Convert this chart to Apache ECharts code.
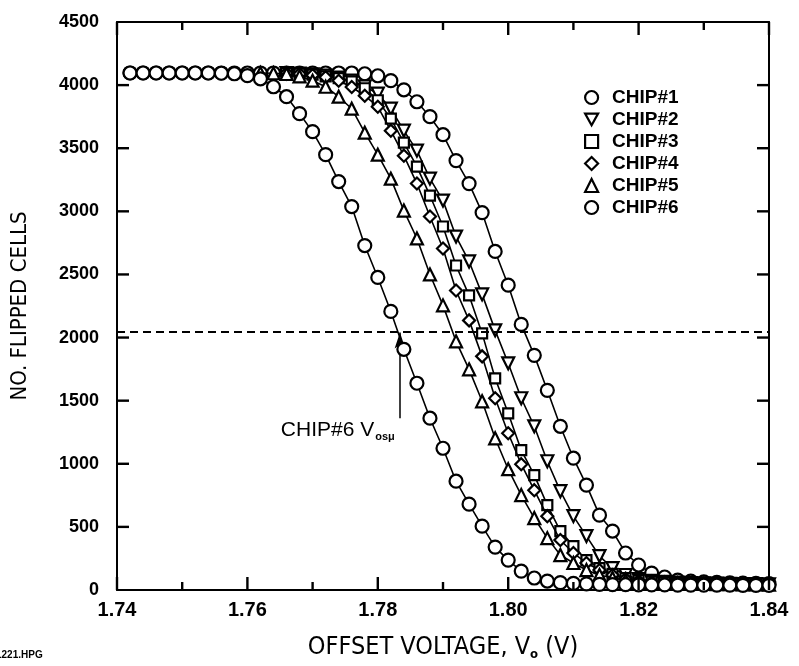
<!DOCTYPE html>
<html>
<head>
<meta charset="utf-8">
<script src="https://cdn.jsdelivr.net/npm/echarts@6/dist/echarts.min.js"></script>
<style>
  html, body { margin: 0; padding: 0; background: #fff; }
  #chart { width: 799px; height: 666px; }
</style>
</head>
<body>
<div id="chart"></div>
<script>
// offset voltage (V), one reading every 2 mV
const voltage = [1.742, 1.744, 1.746, 1.748, 1.750, 1.752, 1.754, 1.756, 1.758, 1.760,
  1.762, 1.764, 1.766, 1.768, 1.770, 1.772, 1.774, 1.776, 1.778, 1.780,
  1.782, 1.784, 1.786, 1.788, 1.790, 1.792, 1.794, 1.796, 1.798, 1.800,
  1.802, 1.804, 1.806, 1.808, 1.810, 1.812, 1.814, 1.816, 1.818, 1.820,
  1.822, 1.824, 1.826, 1.828, 1.830, 1.832, 1.834, 1.836, 1.838, 1.840]

// flipped cells per chip (null = not measured)
const chip1 = [4096, 4096, 4096, 4096, 4096, 4096, 4096, 4096, 4096, 4096,
  4096, 4096, 4096, 4096, 4096, 4096, 4096, 4096, 4090, 4074,
  4035, 3963, 3868, 3750, 3607, 3402, 3220, 2990, 2682, 2415,
  2104, 1859, 1582, 1297, 1044, 831, 593, 467, 293, 198,
  134, 103, 79, 71, 64, 60, 56, 54, 52, 50]
const chip2 = [null, null, null, null, null, null, null, null, null, null,
  null, null, 4096, 4092, 4085, 4075, 4060, 4035, 3990, 3932,
  3813, 3639, 3481, 3259, 3085, 2800, 2603, 2342, 2057, 1796,
  1519, 1297, 1020, 783, 585, 427, 269, 174, 119, 87,
  72, 64, 58, 54, 52, 50, 48, 47, 46, 45]
const chip3 = [null, null, null, null, null, null, null, null, null, null,
  null, null, 4096, 4090, 4082, 4070, 4055, 4030, 3975, 3880,
  3734, 3544, 3354, 3125, 2880, 2571, 2334, 2033, 1677, 1400,
  1108, 910, 672, 467, 348, 237, 174, 127, 95, 78,
  66, 60, 55, 52, 50, 48, 47, 46, 45, 44]
const chip4 = [null, null, null, null, null, null, null, null, null, null,
  null, null, 4094, 4088, 4078, 4062, 4035, 3985, 3916, 3829,
  3639, 3441, 3220, 2959, 2706, 2373, 2136, 1851, 1519, 1242,
  997, 791, 585, 396, 293, 214, 158, 119, 90, 74,
  64, 58, 54, 51, 49, 47, 46, 45, 44, 43]
const chip5 = [null, null, null, null, null, null, null, null, null, null,
  4096, 4094, 4088, 4070, 4035, 3987, 3908, 3813, 3623, 3449,
  3259, 3006, 2785, 2500, 2255, 1970, 1748, 1495, 1202, 957,
  752, 570, 411, 277, 214, 158, 119, 95, 78, 68,
  61, 56, 52, 50, 48, 47, 46, 45, 44, 43]
const chip6 = [4096, 4096, 4096, 4096, 4096, 4096, 4096, 4094, 4090, 4075,
  4050, 3987, 3908, 3774, 3631, 3449, 3236, 3038, 2729, 2476,
  2207, 1907, 1638, 1361, 1123, 862, 680, 506, 340, 237,
  150, 95, 71, 58, 52, 48, 45, 43, 42, 41,
  40, 40, 39, 39, 38, 38, 38, 37, 37, 37]

// 刻度位置
const xMajorTicks = [1.74, 1.76, 1.78, 1.80, 1.82, 1.84]
const xMinorTicks = [1.75, 1.77, 1.79, 1.81, 1.83]
const yTicks = [500, 1000, 1500, 2000, 2500, 3000, 3500, 4000]

const chipNames = ['CHIP#1', 'CHIP#2', 'CHIP#3', 'CHIP#4', 'CHIP#5', 'CHIP#6']
const halfCells = 2048
const arrowFrom = [1.7834, 1360]
const arrowTo = [1.7834, 2040]
const noteAt = [1.7826, 1266]

const xMin = 1.74
const xMax = 1.84
const yMin = 0
const yMax = 4500

const downTri = 'path://M0,0 L10,0 L5,9 Z'
const symbols = ['circle', downTri, 'rect', 'diamond', 'triangle', 'circle']
const sizes = [13, 12, 10, 12, 12, 13]

const labelFont = "'Liberation Sans', Arial, sans-serif"
const narrowFont = "'DejaVu Sans Condensed', 'Liberation Sans Narrow', 'Liberation Sans', sans-serif"

const chart = echarts.init(document.getElementById('chart'))

const series = [chip1, chip2, chip3, chip4, chip5, chip6].map((arr, k) => {
  const s = {
    name: chipNames[k],
    type: 'line',
    data: voltage.map((v, i) => [v, arr[i]]).filter((p) => p[1] !== null),
    symbol: symbols[k],
    symbolSize: sizes[k],
    showAllSymbol: true,
    lineStyle: { color: '#000', width: 1.6 },
    itemStyle: { color: '#fff', borderColor: '#000', borderWidth: 2.2 },
    emphasis: { disabled: true },
    z: 2 + k
  }
  if (k === 5) {
    // 半數 (2048) 的虛線和箭頭
    s.markLine = {
      silent: true,
      animation: false,
      symbol: ['none', 'none'],
      data: [
        {
          yAxis: halfCells,
          lineStyle: { type: [8, 5], width: 2.2, color: '#000' }
        },
        [
          { coord: arrowFrom },
          { coord: arrowTo, symbol: 'arrow', symbolSize: [8, 16] }
        ]
      ],
      lineStyle: { type: 'solid', width: 1.5, color: '#000' },
      label: { show: false }
    }
    s.markPoint = {
      silent: true,
      symbol: 'circle',
      symbolSize: 0,
      data: [{ coord: noteAt }],
      label: {
        show: true,
        position: 'inside',
        align: 'right',
        verticalAlign: 'middle',
        formatter: '{a|CHIP#6 V}{s|osμ}',
        rich: {
          a: { fontFamily: labelFont, fontSize: 21, color: '#000' },
          s: { fontFamily: labelFont, fontSize: 11, fontWeight: 'bold', color: '#000', padding: [14, 0, 0, 1] }
        }
      }
    }
  }
  return s
})

function plainAxis(extra) {
  return Object.assign({
    type: 'value',
    axisLine: { show: true, onZero: false, lineStyle: { color: '#000', width: 2 } },
    axisTick: { show: false },
    splitLine: { show: false }
  }, extra)
}

const noteText = {
  type: 'text',
  left: -4,
  top: 650,
  style: { text: '1221.HPG', font: 'bold 10px ' + labelFont, fill: '#000' }
}

const option = {
  backgroundColor: '#fff',
  animation: false,
  grid: { left: 117, right: 30, top: 22, bottom: 74 },
  xAxis: [
    plainAxis({
      min: xMin,
      max: xMax,
      interval: 0.02,
      position: 'bottom',
      name: '{a|OFFSET VOLTAGE, V}{s|o}{a| (V)}',
      nameLocation: 'middle',
      nameGap: 44,
      nameTextStyle: {
        rich: {
          a: { fontFamily: narrowFont, fontSize: 25, color: '#000' },
          s: { fontFamily: narrowFont, fontSize: 13, fontWeight: 'bold', color: '#000', padding: [14, 0, 0, 0] }
        }
      },
      axisLabel: {
        margin: 10,
        fontFamily: labelFont,
        fontSize: 20,
        fontWeight: 'bold',
        color: '#000',
        formatter: (v) => v.toFixed(2)
      }
    }),
    plainAxis({ min: xMin, max: xMax, position: 'top', axisLabel: { show: false } })
  ],
  yAxis: [
    plainAxis({
      min: yMin,
      max: yMax,
      interval: 500,
      position: 'left',
      name: 'NO. FLIPPED CELLS',
      nameLocation: 'middle',
      nameGap: 86,
      nameTextStyle: { fontFamily: narrowFont, fontSize: 22, color: '#000' },
      axisLabel: {
        margin: 18,
        fontFamily: labelFont,
        fontSize: 18,
        fontWeight: 'bold',
        color: '#000',
        formatter: (v) => String(v)
      }
    }),
    plainAxis({ min: yMin, max: yMax, position: 'right', axisLabel: { show: false } })
  ],
  legend: {
    orient: 'vertical',
    left: 579,
    top: 83,
    itemGap: 3,
    itemWidth: 13,
    itemHeight: 13,
    selectedMode: false,
    data: chipNames.map((n, k) => ({ name: n, icon: symbols[k] })),
    itemStyle: { color: '#fff', borderColor: '#000', borderWidth: 2.2 },
    lineStyle: { width: 0, opacity: 0 },
    textStyle: { fontFamily: labelFont, fontSize: 19, fontWeight: 'bold', color: '#000', padding: [0, 0, 0, 9] }
  },
  graphic: [noteText],
  series
}

chart.setOption(option)

// 朝內的刻度: 用軸的比例尺換成像素再畫
const tickStyle = { stroke: '#000', lineWidth: 2.4 }
const toPx = (pt) => chart.convertToPixel({ gridIndex: 0 }, pt)
const tickLines = []
function addX(values, len) {
  values.forEach((v) => {
    const b = toPx([v, yMin])
    const t = toPx([v, yMax])
    tickLines.push({ type: 'line', z: 100, silent: true, shape: { x1: b[0], y1: b[1], x2: b[0], y2: b[1] - len }, style: tickStyle })
    tickLines.push({ type: 'line', z: 100, silent: true, shape: { x1: t[0], y1: t[1], x2: t[0], y2: t[1] + len }, style: tickStyle })
  })
}
function addY(values, len) {
  values.forEach((v) => {
    const l = toPx([xMin, v])
    const r = toPx([xMax, v])
    tickLines.push({ type: 'line', z: 100, silent: true, shape: { x1: l[0], y1: l[1], x2: l[0] + len, y2: l[1] }, style: tickStyle })
    tickLines.push({ type: 'line', z: 100, silent: true, shape: { x1: r[0], y1: r[1], x2: r[0] - len, y2: r[1] }, style: tickStyle })
  })
}
addX(xMajorTicks, 13)
addX(xMinorTicks, 8)
addY(yTicks, 12)
chart.setOption({ graphic: [noteText].concat(tickLines) }, { replaceMerge: ['graphic'] })
</script>
</body>
</html>
